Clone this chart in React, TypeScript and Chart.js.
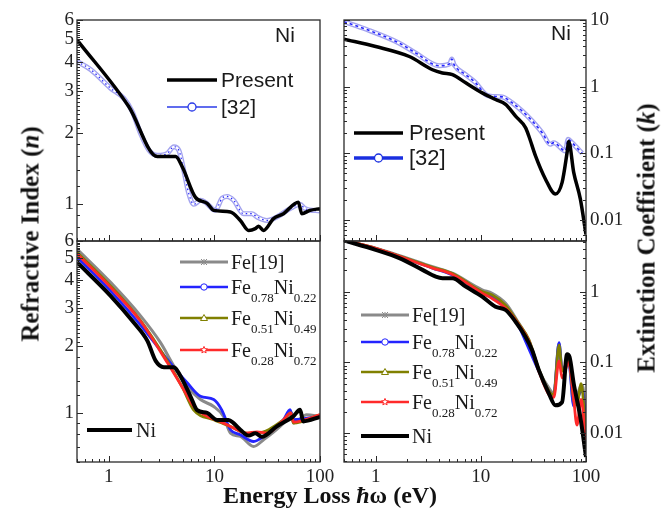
import React, { useEffect, useRef } from "react";
import { Chart, registerables } from "chart.js";
Chart.register(...registerables);

const W = 662;
const H = 510;

// ================= DATA =================
// Top-left: refractive index n of Ni
const nPresentE = [0.5, 1.55, 2.88, 4.29, 4.96, 6.62, 8.53, 9.85, 14.2, 17.6, 21.1, 24.4, 26.2, 29.2, 36.3, 45.1, 62.4, 67.2, 80.5, 100];
const nPresentV = [4.95, 2.58, 1.59, 1.59, 1.44, 1.07, 1.01, 0.943, 0.928, 0.855, 0.776, 0.789, 0.807, 0.776, 0.87, 0.913, 1.02, 0.913, 0.943, 0.959];
const n32E = [0.5, 0.676, 1.04, 1.39, 1.67, 2.0, 2.4, 2.88, 3.58, 4.13, 4.61, 5.13, 5.72, 6.38, 7.38, 8.23, 10.2, 11.8, 13.2, 15.2, 18.9, 22.7, 25.3, 31.4, 39.0, 52.1, 64.8, 72.2, 100];
const n32V = [4.01, 3.7, 3.09, 2.8, 2.46, 1.99, 1.69, 1.61, 1.64, 1.75, 1.69, 1.39, 1.11, 1.0, 1.04, 1.02, 0.943, 1.06, 1.08, 1.04, 0.913, 0.913, 0.884, 0.855, 0.884, 0.959, 1.0, 0.959, 0.937];

// Top-right: extinction coefficient k of Ni
const kPresentE = [0.5, 1.0, 2.09, 3.47, 4.32, 5.37, 7.18, 10.3, 13.8, 17.2, 21.4, 26.6, 28.6, 33.1, 41.1, 51.2, 59.3, 66.1, 68.5, 76.4, 88.3, 100];
const kPresentV = [5.15, 4.0, 2.83, 1.79, 1.6, 1.51, 1.14, 0.805, 0.64, 0.539, 0.36, 0.242, 0.181, 0.091, 0.041, 0.0244, 0.0365, 0.102, 0.15, 0.0515, 0.0206, 0.006];
const k32E = [0.5, 0.81, 1.68, 2.41, 4.02, 5.06, 5.3, 5.57, 7.18, 8.93, 11.1, 12.4, 16.0, 19.9, 24.8, 30.8, 38.3, 45.8, 49.4, 63.7, 67.6, 73.5, 91.8];
const k32V = [9.44, 7.26, 4.49, 3.18, 2.06, 2.2, 2.59, 2.13, 1.51, 1.14, 0.76, 0.717, 0.7, 0.57, 0.428, 0.304, 0.203, 0.136, 0.144, 0.108, 0.162, 0.144, 0.1];

// Bottom-left: refractive index n of alloys
const nNiE = [0.5, 1.04, 1.73, 2.32, 2.78, 3.32, 4.13, 4.77, 5.93, 6.86, 8.53, 10.6, 13.6, 15.2, 17.6, 21.1, 24.4, 28.1, 39.0, 55.8, 64.8, 69.4, 100];
const nNiV = [4.81, 3.39, 2.56, 2.12, 1.72, 1.61, 1.61, 1.47, 1.19, 1.03, 1.0, 0.93, 0.93, 0.9, 0.84, 0.79, 0.81, 0.78, 0.87, 0.965, 1.035, 0.916, 0.96];
const nFeE = [0.5, 1.04, 2.0, 3.09, 4.13, 5.53, 7.38, 9.85, 12.2, 14.2, 17.6, 23.5, 29.2, 45.1, 54.3, 55.8, 74.8, 100];
const nFeV = [5.52, 3.9, 2.75, 2.08, 1.63, 1.32, 1.15, 1.07, 0.965, 0.811, 0.783, 0.705, 0.756, 0.9, 1.0, 0.9, 0.982, 0.965];
const nFe78E = [0.5, 1.04, 2.0, 3.58, 5.53, 7.38, 9.85, 11.7, 14.2, 17.6, 23.5, 29.2, 45.1, 52.1, 55.8, 100];
const nFe78V = [5.07, 3.57, 2.5, 1.75, 1.37, 1.19, 1.15, 1.035, 0.84, 0.797, 0.743, 0.783, 0.932, 1.035, 0.932, 0.965];
const nFe51E = [0.5, 1.04, 2.0, 3.58, 5.0, 6.38, 9.85, 14.2, 20.3, 25.3, 45.0, 53.0, 56.0, 100];
const nFe51V = [5.34, 3.76, 2.62, 1.72, 1.3, 1.03, 0.932, 0.869, 0.811, 0.811, 0.93, 1.0, 0.9, 0.982];
const nFe28E = [0.5, 1.04, 2.0, 3.58, 5.0, 6.38, 8.53, 11.4, 14.2, 20.3, 25.3, 31.4, 45.0, 53.0, 56.0, 100];
const nFe28V = [5.25, 3.7, 2.6, 1.69, 1.3, 1.07, 0.965, 0.913, 0.869, 0.811, 0.822, 0.811, 0.93, 1.0, 0.91, 0.982];

// Bottom-right: extinction coefficient k of alloys
const kNiE = [0.5, 1.0, 1.68, 2.79, 3.73, 4.32, 5.37, 7.18, 10.3, 13.8, 17.2, 21.4, 26.6, 30.7, 35.6, 44.4, 51.2, 59.3, 66.1, 69.7, 76.4, 88.3, 100];
const kNiV = [5.29, 3.9, 2.98, 2.03, 1.63, 1.55, 1.55, 1.18, 0.85, 0.613, 0.55, 0.375, 0.23, 0.149, 0.0776, 0.0362, 0.0247, 0.0275, 0.13, 0.12, 0.0502, 0.0169, 0.0046];
const kFeE = [0.5, 1.0, 3.47, 5.37, 10.3, 12.8, 17.2, 23.0, 28.6, 35.6, 45.8, 49.4, 55.4, 59.3, 68.5, 76.4, 88.3, 93.0, 100];
const kFeV = [5.29, 4.13, 2.26, 1.82, 1.06, 0.95, 0.685, 0.356, 0.206, 0.0776, 0.0405, 0.0362, 0.185, 0.0776, 0.107, 0.0262, 0.045, 0.0476, 0.0088];
const kFe78E = [0.5, 1.0, 3.47, 5.37, 10.3, 12.8, 17.2, 23.0, 26.6, 35.6, 45.8, 49.4, 55.4, 59.3, 68.5, 76.4, 88.3, 93.0, 100];
const kFe78V = [5.25, 4.05, 2.15, 1.72, 0.98, 0.85, 0.62, 0.32, 0.2, 0.075, 0.037, 0.035, 0.19, 0.077, 0.1, 0.024, 0.038, 0.04, 0.0085];
const kFe51E = [0.5, 1.0, 3.47, 5.37, 10.3, 12.8, 17.2, 23.0, 28.6, 35.6, 45.8, 49.4, 55.4, 59.3, 68.5, 76.4, 82.0, 90.0, 100];
const kFe51V = [5.3, 4.1, 2.2, 1.8, 1.0, 0.9, 0.64, 0.35, 0.21, 0.08, 0.037, 0.035, 0.175, 0.075, 0.105, 0.03, 0.025, 0.05, 0.0085];
const kFe28E = [0.5, 1.0, 3.47, 5.37, 10.3, 12.8, 17.2, 23.0, 28.6, 35.6, 45.8, 49.4, 55.4, 59.3, 68.5, 76.4, 82.0, 90.0, 100];
const kFe28V = [5.3, 4.1, 2.15, 1.75, 0.95, 0.8, 0.58, 0.34, 0.2, 0.075, 0.033, 0.032, 0.105, 0.06, 0.1, 0.03, 0.013, 0.03, 0.006];

// Tick labels
const xTickLabels = [1, 10, 100];
const nTickLabels = [1, 2, 3, 4, 5, 6];
const kTickLabelsTop = [0.01, 0.1, 1, 10];
const kTickLabelsBottom = [0.01, 0.1, 1];

// Legend labels
const lblPresent = "Present";
const lbl32 = "[32]";
const lblNi = "Ni";
const lblFe = "Fe[19]";

// ================= STYLE HELPERS =================
const SERIF = '"Liberation Serif", Tinos, "Times New Roman", "DejaVu Serif", "Noto Serif", serif';
const SANS = '"Liberation Sans", Arimo, Arial, sans-serif';
const C_GRAY = "#8a8a8a";
const C_BLUE = "#2424ff";
const C_OLIVE = "#808000";
const C_RED = "#ff2a2a";
const C_LAV = "#a4a4ee";

function logTicks(lo: number, hi: number) {
  const out: [number, boolean][] = [];
  for (let d = -4; d <= 2; d++) {
    for (let m = 1; m < 10; m++) {
      const v = m * Math.pow(10, d);
      if (v >= lo * 0.999 && v <= hi * 1.001) out.push([v, m === 1]);
    }
  }
  return out;
}
function nTicks(lo: number) {
  const out: [number, boolean][] = [];
  for (let i = Math.round(lo * 10); i <= 60; i++) {
    const v = i / 10;
    const major = i % 10 === 0;
    if (v > 1 && v < 2 && i % 2 === 1) continue;
    out.push([v, major]);
  }
  return out;
}
const X_TICKS = logTicks(0.5, 100);

const pts = (xs: number[], ys: number[]) => xs.map((x, i) => ({ x, y: ys[i] }));
const ln = (data: any, color: string, width: number, extra: any = {}) => ({
  data,
  borderColor: color,
  borderWidth: width,
  pointRadius: 0,
  fill: false,
  cubicInterpolationMode: "monotone",
  clip: 0,
  ...extra,
});

function drawMarker(ctx: CanvasRenderingContext2D, kind: string, x: number, y: number, color: string) {
  ctx.save();
  ctx.strokeStyle = color;
  ctx.fillStyle = "#fff";
  ctx.lineWidth = 1;
  ctx.beginPath();
  if (kind === "circle") {
    ctx.arc(x, y, 3.2, 0, Math.PI * 2);
    ctx.fill();
    ctx.stroke();
  } else if (kind === "bigcircle") {
    ctx.lineWidth = 1.3;
    ctx.arc(x, y, 4, 0, Math.PI * 2);
    ctx.fill();
    ctx.stroke();
  } else if (kind === "triangle") {
    ctx.moveTo(x, y - 3.5);
    ctx.lineTo(x + 3.5, y + 2.5);
    ctx.lineTo(x - 3.5, y + 2.5);
    ctx.closePath();
    ctx.fill();
    ctx.stroke();
  } else if (kind === "star") {
    for (let i = 0; i < 10; i++) {
      const r = i % 2 === 0 ? 3.6 : 1.6;
      const a = -Math.PI / 2 + (i * Math.PI) / 5;
      const px = x + r * Math.cos(a);
      const py = y + r * Math.sin(a);
      if (i === 0) ctx.moveTo(px, py);
      else ctx.lineTo(px, py);
    }
    ctx.closePath();
    ctx.fill();
    ctx.stroke();
  } else if (kind === "cross") {
    const r = 3;
    ctx.moveTo(x - r, y - r);
    ctx.lineTo(x + r, y + r);
    ctx.moveTo(x + r, y - r);
    ctx.lineTo(x - r, y + r);
    ctx.moveTo(x, y - r);
    ctx.lineTo(x, y + r);
    ctx.stroke();
  }
  ctx.restore();
}

type Entry = {
  x1?: number;
  x2?: number;
  y: number;
  color?: string;
  width?: number;
  marker?: string;
  mx?: number;
  tx: number;
  size: number;
  sans?: boolean;
  center?: boolean;
  parts: [string, boolean][];
};

function drawEntry(ctx: CanvasRenderingContext2D, e: Entry) {
  ctx.save();
  if (e.x1 !== undefined && e.x2 !== undefined) {
    ctx.strokeStyle = e.color || "#000";
    ctx.lineWidth = e.width || 2;
    ctx.beginPath();
    ctx.moveTo(e.x1, e.y);
    ctx.lineTo(e.x2, e.y);
    ctx.stroke();
    if (e.marker) drawMarker(ctx, e.marker, e.mx !== undefined ? e.mx : (e.x1 + e.x2) / 2, e.y, e.color || "#000");
  }
  const fam = e.sans ? SANS : SERIF;
  ctx.fillStyle = "#1a1a1a";
  ctx.textBaseline = "alphabetic";
  const base = e.y + 0.34 * e.size;
  let total = 0;
  for (const [t, sub] of e.parts) {
    ctx.font = `${sub ? Math.round(e.size * 0.65) : e.size}px ${fam}`;
    total += ctx.measureText(t).width;
  }
  let x = e.center ? e.tx - total / 2 : e.tx;
  ctx.textAlign = "left";
  for (const [t, sub] of e.parts) {
    ctx.font = `${sub ? Math.round(e.size * 0.65) : e.size}px ${fam}`;
    ctx.fillText(t, x, sub ? base + e.size * 0.4 : base);
    x += ctx.measureText(t).width;
  }
  ctx.restore();
}

const feParts = (a: string, b: string): [string, boolean][] => [
  ["Fe", false],
  [a, true],
  ["Ni", false],
  [b, true],
];

// ================= PANELS =================
type Panel = {
  area: { l: number; r: number; t: number; b: number };
  yMin: number;
  yMax: number;
  yPos: "left" | "right";
  yLabels: number[];
  yTicks: [number, boolean][];
  ticksLeft: boolean;
  ticksRight: boolean;
  showX: boolean;
  datasets: any[];
  legend: Entry[];
};

const PANELS: Panel[] = [
  {
    area: { l: 77, r: 320, t: 20, b: 241 },
    yMin: 0.7,
    yMax: 6,
    yPos: "left",
    yLabels: nTickLabels,
    yTicks: nTicks(0.7),
    ticksLeft: true,
    ticksRight: false,
    showX: false,
    datasets: [
      ln(pts(nPresentE, nPresentV), "#000", 3.5),
      ln(pts(n32E, n32V), C_BLUE, 1.2, { borderDash: [1.5, 3] }),
      ln(pts(n32E, n32V), "#ffffff", 2.2),
      ln(pts(n32E, n32V), C_LAV, 5),
    ],
    legend: [
      { x1: 167, x2: 217, y: 80, color: "#000", width: 3.5, tx: 221, size: 21, sans: true, parts: [[lblPresent, false]] },
      { x1: 167, x2: 217, y: 107, color: "#2b3be8", width: 1.5, marker: "bigcircle", tx: 221, size: 21, sans: true, parts: [[lbl32, false]] },
      { y: 35, tx: 285, size: 21, sans: true, center: true, parts: [[lblNi, false]] },
    ],
  },
  {
    area: { l: 344, r: 586, t: 20, b: 241 },
    yMin: 0.0048,
    yMax: 10,
    yPos: "right",
    yLabels: kTickLabelsTop,
    yTicks: logTicks(0.0048, 10),
    ticksLeft: true,
    ticksRight: true,
    showX: false,
    datasets: [
      ln(pts(kPresentE, kPresentV), "#000", 3.5),
      ln(pts(k32E, k32V), C_BLUE, 1.6, { borderDash: [3, 3] }),
      ln(pts(k32E, k32V), "#ffffff", 2.2),
      ln(pts(k32E, k32V), C_LAV, 5),
    ],
    legend: [
      { x1: 354, x2: 403, y: 133, color: "#000", width: 3.5, tx: 409, size: 22, sans: true, parts: [[lblPresent, false]] },
      { x1: 354, x2: 403, y: 158, color: "#1a2fe0", width: 3.5, marker: "bigcircle", tx: 409, size: 22, sans: true, parts: [[lbl32, false]] },
      { y: 33, tx: 561, size: 21, sans: true, center: true, parts: [[lblNi, false]] },
    ],
  },
  {
    area: { l: 77, r: 320, t: 241, b: 462 },
    yMin: 0.6,
    yMax: 6,
    yPos: "left",
    yLabels: nTickLabels,
    yTicks: nTicks(0.6),
    ticksLeft: true,
    ticksRight: false,
    showX: true,
    datasets: [
      ln(pts(nNiE, nNiV), "#000", 4),
      ln(pts(nFe28E, nFe28V), C_RED, 2.8),
      ln(pts(nFe51E, nFe51V), C_OLIVE, 2.8),
      ln(pts(nFe78E, nFe78V), C_BLUE, 2.8),
      ln(pts(nFeE, nFeV), C_GRAY, 3),
    ],
    legend: [
      { x1: 180, x2: 228, y: 262, color: C_GRAY, width: 3, marker: "cross", tx: 231, size: 20, parts: [[lblFe, false]] },
      { x1: 180, x2: 228, y: 287, color: C_BLUE, width: 2.5, marker: "circle", tx: 231, size: 20, parts: feParts("0.78", "0.22") },
      { x1: 180, x2: 228, y: 318, color: C_OLIVE, width: 2.5, marker: "triangle", tx: 231, size: 20, parts: feParts("0.51", "0.49") },
      { x1: 180, x2: 228, y: 350, color: C_RED, width: 2.5, marker: "star", tx: 231, size: 20, parts: feParts("0.28", "0.72") },
      { x1: 87, x2: 132, y: 430, color: "#000", width: 4, tx: 136, size: 20, parts: [[lblNi, false]] },
    ],
  },
  {
    area: { l: 344, r: 586, t: 241, b: 462 },
    yMin: 0.0039,
    yMax: 5.2,
    yPos: "right",
    yLabels: kTickLabelsBottom,
    yTicks: logTicks(0.0039, 5.2),
    ticksLeft: true,
    ticksRight: true,
    showX: true,
    datasets: [
      ln(pts(kNiE, kNiV), "#000", 4),
      ln(pts(kFe28E, kFe28V), C_RED, 2.8),
      ln(pts(kFe51E, kFe51V), C_OLIVE, 2.8),
      ln(pts(kFe78E, kFe78V), C_BLUE, 2.8),
      ln(pts(kFeE, kFeV), C_GRAY, 3),
    ],
    legend: [
      { x1: 361, x2: 409, y: 315, color: C_GRAY, width: 3, marker: "cross", tx: 412, size: 20, parts: [[lblFe, false]] },
      { x1: 361, x2: 409, y: 342, color: C_BLUE, width: 2.5, marker: "circle", tx: 412, size: 20, parts: feParts("0.78", "0.22") },
      { x1: 361, x2: 409, y: 372, color: C_OLIVE, width: 2.5, marker: "triangle", tx: 412, size: 20, parts: feParts("0.51", "0.49") },
      { x1: 361, x2: 409, y: 402, color: C_RED, width: 2.5, marker: "star", tx: 412, size: 20, parts: feParts("0.28", "0.72") },
      { x1: 361, x2: 409, y: 436, color: "#000", width: 4, tx: 412, size: 20, parts: [[lblNi, false]] },
    ],
  },
];

function framePlugin(p: Panel) {
  return {
    id: "frame",
    afterDraw(chart: any) {
      const { ctx, chartArea: a } = chart;
      const xs = chart.scales.x;
      const ys = chart.scales.y;
      ctx.save();
      ctx.strokeStyle = "#2a2a2a";
      ctx.lineWidth = 1;
      ctx.beginPath();
      for (const [v, major] of X_TICKS) {
        const px = Math.round(xs.getPixelForValue(v)) + 0.5;
        const len = major ? 6 : 3;
        ctx.moveTo(px, a.bottom);
        ctx.lineTo(px, a.bottom - len);
      }
      for (const [v, major] of p.yTicks) {
        if (v < p.yMin || v > p.yMax) continue;
        const py = Math.round(ys.getPixelForValue(v)) + 0.5;
        const len = major ? 6 : 3;
        if (p.ticksLeft) {
          ctx.moveTo(a.left, py);
          ctx.lineTo(a.left + len, py);
        }
        if (p.ticksRight) {
          ctx.moveTo(a.right, py);
          ctx.lineTo(a.right - len, py);
        }
      }
      ctx.stroke();
      ctx.lineWidth = 1.3;
      ctx.strokeRect(a.left, a.top, a.right - a.left, a.bottom - a.top);
      for (const e of p.legend) drawEntry(ctx, e);
      ctx.restore();
    },
  };
}

function makeChart(canvas: HTMLCanvasElement, p: Panel) {
  const axisW = 60;
  const axisH = p.showX ? 30 : 0;
  const tickFont = { family: SERIF, size: 19 };
  return new Chart(canvas, {
    type: "line",
    data: { datasets: p.datasets },
    plugins: [framePlugin(p)],
    options: {
      animation: false,
      responsive: false,
      devicePixelRatio: 1,
      events: [],
      layout: {
        autoPadding: false,
        padding: {
          left: p.yPos === "left" ? p.area.l - axisW : p.area.l,
          right: p.yPos === "right" ? W - p.area.r - axisW : W - p.area.r,
          top: p.area.t,
          bottom: H - p.area.b - axisH,
        },
      },
      plugins: { legend: { display: false }, tooltip: { enabled: false }, title: { display: false } },
      scales: {
        x: {
          type: "logarithmic",
          min: 0.5,
          max: 100,
          bounds: "data",
          position: "bottom",
          grid: { display: false, drawTicks: false },
          border: { display: false },
          ticks: {
            display: p.showX,
            color: "#222",
            font: tickFont,
            padding: 4,
            autoSkip: false,
            maxRotation: 0,
            minRotation: 0,
            callback: (v: any) => String(v),
          },
          afterBuildTicks: (s: any) => {
            s.ticks = xTickLabels.map((v) => ({ value: v }));
          },
          afterFit: (s: any) => {
            s.height = axisH;
          },
        },
        y: {
          type: "logarithmic",
          min: p.yMin,
          max: p.yMax,
          bounds: "data",
          position: p.yPos,
          grid: { display: false, drawTicks: false },
          border: { display: false },
          ticks: {
            color: "#222",
            font: tickFont,
            padding: p.yPos === "left" ? 3 : 4,
            autoSkip: false,
            callback: (v: any) => String(v),
          },
          afterBuildTicks: (s: any) => {
            s.ticks = p.yLabels.map((v) => ({ value: v }));
          },
          afterFit: (s: any) => {
            s.width = axisW;
          },
        },
      },
    } as any,
  } as any);
}

const titleBase: React.CSSProperties = {
  position: "absolute",
  fontFamily: SERIF,
  fontWeight: "bold",
  whiteSpace: "nowrap",
  color: "#111",
};

export default function App() {
  const r0 = useRef<HTMLCanvasElement>(null);
  const r1 = useRef<HTMLCanvasElement>(null);
  const r2 = useRef<HTMLCanvasElement>(null);
  const r3 = useRef<HTMLCanvasElement>(null);
  const refs = [r0, r1, r2, r3];

  useEffect(() => {
    const charts = PANELS.map((p, i) => makeChart(refs[i].current as HTMLCanvasElement, p));
    return () => charts.forEach((c) => c.destroy());
  }, []);

  return (
    <div style={{ position: "fixed", left: 0, top: 0, width: W, height: H, background: "#fff", overflow: "hidden" }}>
      {PANELS.map((_, i) => (
        <canvas
          key={i}
          ref={refs[i]}
          width={W}
          height={H}
          style={{ position: "absolute", left: 0, top: 0, width: W, height: H }}
        />
      ))}
      <div
        style={{
          ...titleBase,
          fontSize: 25,
          lineHeight: "25px",
          left: 30,
          top: 234,
          transform: "translate(-50%, -50%) rotate(-90deg)",
        }}
      >
        Refractive Index (<i>n</i>)
      </div>
      <div
        style={{
          ...titleBase,
          fontSize: 25,
          lineHeight: "25px",
          left: 646,
          top: 238,
          transform: "translate(-50%, -50%) rotate(-90deg)",
        }}
      >
        Extinction Coefficient (<i>k</i>)
      </div>
      <div
        style={{
          ...titleBase,
          fontSize: 24,
          lineHeight: "24px",
          left: 330,
          top: 495,
          transform: "translate(-50%, -50%)",
        }}
      >
        Energy Loss <i>ħ</i>ω (eV)
      </div>
    </div>
  );
}
